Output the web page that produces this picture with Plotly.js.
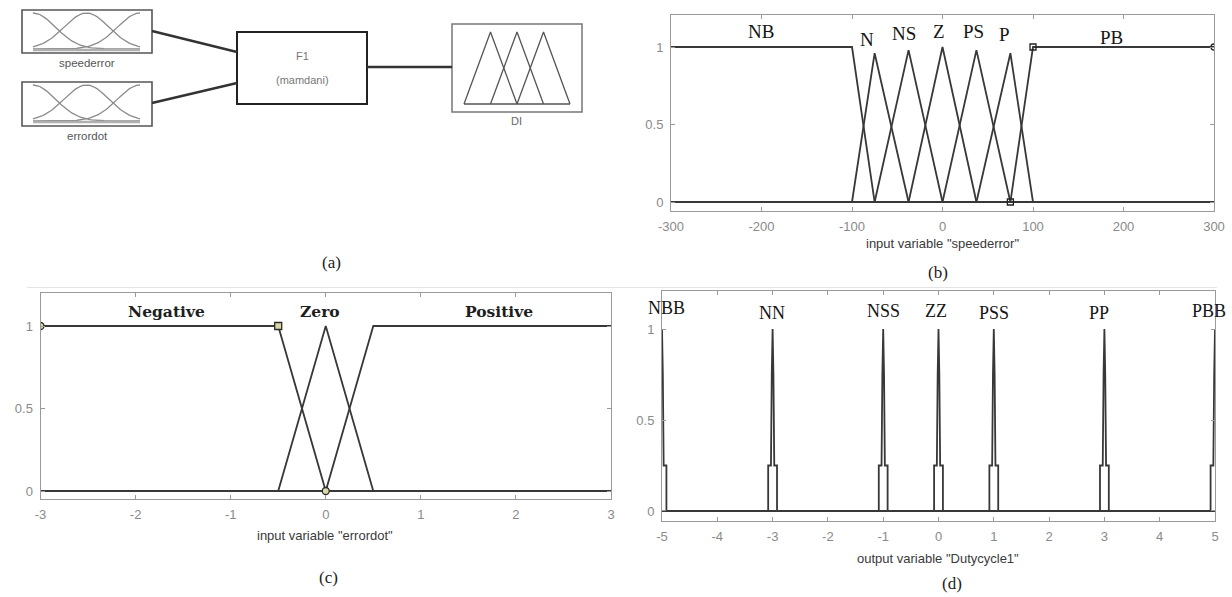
<!DOCTYPE html>
<html><head><meta charset="utf-8">
<script src="https://cdn.plot.ly/plotly-3.0.1.min.js"></script>
<style>html,body{margin:0;padding:0;background:#fff}#chart{width:1232px;height:597px}</style>
</head><body><div id="chart"></div>
<script>
// ================= DATA =================
// (b) input variable "speederror"
const speedRange = [-300, 300];
const speedNames = ['NB', 'N', 'NS', 'Z', 'PS', 'P', 'PB'];
const speedBreaksX = [[-300, -100, -75], [-100, -75, -37.5], [-75, -37.5, 0], [-37.5, 0, 37.5], [0, 37.5, 75], [37.5, 75, 100], [75, 100, 300]];
const speedBreaksY = [[1, 1, 0], [0, 0.96, 0], [0, 0.98, 0], [0, 1, 0], [0, 0.98, 0], [0, 0.96, 0], [0, 1, 1]];
const speedLabelX = [-200, -83, -42, -4, 34, 69, 187];
const speedLabelY = [1.10, 1.05, 1.09, 1.10, 1.10, 1.08, 1.06];
const speedMarkX = [75, 100, 300];
const speedMarkY = [0, 1, 1];
const speedMarkSym = ['square-open', 'square-open', 'circle-open'];
const speedTicks = [-300, -200, -100, 0, 100, 200, 300];
const speedTickText = ['-300', '-200', '-100', '0', '100', '200', '300'];

// (c) input variable "errordot"
const errRange = [-3, 3];
const errNames = ['Negative', 'Zero', 'Positive'];
const errBreaksX = [[-3, -0.5, 0], [-0.5, 0, 0.5], [0, 0.5, 3]];
const errBreaksY = [[1, 1, 0], [0, 1, 0], [0, 1, 1]];
const errLabelX = [-1.68, -0.06, 1.82];
const errLabelY = [1.09, 1.09, 1.09];
const errMarkX = [-3, -0.5, 0];
const errMarkY = [1, 1, 0];
const errMarkSym = ['circle', 'square', 'circle'];
const errTicks = [-3, -2, -1, 0, 1, 2, 3];
const errTickText = ['-3', '-2', '-1', '0', '1', '2', '3'];

// (d) output variable "Dutycycle1"
const dutyRange = [-5, 5];
const dutyNames = ['NBB', 'NN', 'NSS', 'ZZ', 'PSS', 'PP', 'PBB'];
const dutyCenters = [-5, -3, -1, 0, 1, 3, 5];
const spikeOffsets = [-0.08, -0.08, -0.03, -0.015, 0, 0.015, 0.03, 0.08, 0.08];
const spikeLevels = [0, 0.25, 0.25, 0.75, 1, 0.75, 0.25, 0.25, 0];
const dutyLabelX = [-4.91, -3.01, -1.0, -0.05, 1.0, 2.9, 4.89];
const dutyLabelY = [1.115, 1.09, 1.10, 1.10, 1.09, 1.09, 1.10];
const dutyTicks = [-5, -4, -3, -2, -1, 0, 1, 2, 3, 4, 5];
const dutyTickText = ['-5', '-4', '-3', '-2', '-1', '0', '1', '2', '3', '4', '5'];

const yTicks = [0, 0.5, 1];
const yTickText = ['0', '0.5', '1'];

// (a) FIS diagram icons
const inputIconCenters = [0, 0.5, 1];
const inputIconSigma = 0.21;
const outputIconTri = [[0, 0.25, 0.5], [0.25, 0.5, 0.75], [0.5, 0.75, 1]];

// ================= BUILD =================
const W = 1232, H = 597;
const px = x => x / W;
const py = y => 1 - y / H;
const MF = '#383838';
const traces = [];
const annotations = [];
const shapes = [];

function ann(o) { return Object.assign({ showarrow: false, xanchor: 'center', yanchor: 'middle' }, o); }

function mfTrace(xs, ys, range, xa, ya) {
  return {
    type: 'scatter', mode: 'lines', xaxis: xa, yaxis: ya,
    x: [range[0], ...xs, range[1]],
    y: [ys[0], ...ys, ys[ys.length - 1]],
    line: { color: MF, width: 1.8 }, hoverinfo: 'skip', showlegend: false
  };
}

// panel b
speedBreaksX.forEach((xs, i) => traces.push(mfTrace(xs, speedBreaksY[i], speedRange, 'x2', 'y2')));
traces.push({ type: 'scatter', mode: 'markers', xaxis: 'x2', yaxis: 'y2', x: speedMarkX, y: speedMarkY,
  marker: { symbol: speedMarkSym, size: 6, color: '#222', line: { color: '#222', width: 1.3 } }, cliponaxis: true, hoverinfo: 'skip', showlegend: false });
speedNames.forEach((n, i) => annotations.push(ann({ xref: 'x2', yref: 'y2', x: speedLabelX[i], y: speedLabelY[i], text: n,
  font: { family: 'Liberation Serif', size: 19, color: '#151515' } })));

// panel c
errBreaksX.forEach((xs, i) => traces.push(mfTrace(xs, errBreaksY[i], errRange, 'x3', 'y3')));
traces.push({ type: 'scatter', mode: 'markers', xaxis: 'x3', yaxis: 'y3', x: errMarkX, y: errMarkY,
  marker: { symbol: errMarkSym, size: 7, color: '#d9d9a6', line: { color: '#2a2a2a', width: 1.3 } }, cliponaxis: true, hoverinfo: 'skip', showlegend: false });
errNames.forEach((n, i) => annotations.push(ann({ xref: 'x3', yref: 'y3', x: errLabelX[i], y: errLabelY[i], text: '<b>' + n + '</b>',
  font: { family: 'DejaVu Serif', size: 15.5, color: '#1e1e1e' } })));

// panel d
dutyCenters.forEach(c => {
  const xs = spikeOffsets.map(o => c + o);
  traces.push(mfTrace(xs, spikeLevels, dutyRange, 'x4', 'y4'));
});
dutyNames.forEach((n, i) => annotations.push(ann({ xref: 'x4', yref: 'y4', x: dutyLabelX[i], y: dutyLabelY[i], text: n,
  font: { family: 'Liberation Serif', size: 18, color: '#151515' } })));

// panel a (pixel-unit hidden axes)
const inBoxes = [{ x0: 22, y0: 10, x1: 152, y1: 53, ix0: 33, ix1: 140, iy0: 13, iy1: 49, name: 'speederror', ty: 63 },
                 { x0: 22, y0: 82, x1: 152, y1: 126, ix0: 33, ix1: 140, iy0: 85, iy1: 121, name: 'errordot', ty: 136 }];
const N = 61;
inBoxes.forEach(b => {
  shapes.push({ type: 'rect', xref: 'x', yref: 'y', x0: b.x0, y0: b.y0, x1: b.x1, y1: b.y1, line: { color: '#555', width: 1.6 } });
  inputIconCenters.forEach(c => {
    const xs = [], ys = [];
    for (let k = 0; k < N; k++) {
      const u = k / (N - 1);
      const v = Math.exp(-((u - c) ** 2) / (2 * inputIconSigma ** 2));
      xs.push(b.ix0 + u * (b.ix1 - b.ix0));
      ys.push(b.iy1 - v * (b.iy1 - b.iy0));
    }
    traces.push({ type: 'scatter', mode: 'lines', xaxis: 'x', yaxis: 'y', x: xs, y: ys, line: { color: '#8a8a8a', width: 1.3 }, hoverinfo: 'skip', showlegend: false });
  });
  shapes.push({ type: 'line', xref: 'x', yref: 'y', x0: b.ix0, x1: b.ix1, y0: b.iy1 + 1, y1: b.iy1 + 1, line: { color: '#b0b0b0', width: 2.5 } });
  annotations.push(ann({ xref: 'x', yref: 'y', x: (b.x0 + b.x1) / 2, y: b.ty, text: b.name, font: { family: 'Liberation Sans', size: 11.5, color: '#555' } }));
});
// F1 box
shapes.push({ type: 'rect', xref: 'x', yref: 'y', x0: 237, y0: 32, x1: 367, y1: 104, line: { color: '#222', width: 2 } });
annotations.push(ann({ xref: 'x', yref: 'y', x: 302, y: 56, text: 'F1', font: { family: 'Liberation Sans', size: 11, color: '#777' } }));
annotations.push(ann({ xref: 'x', yref: 'y', x: 302, y: 80, text: '(mamdani)', font: { family: 'Liberation Sans', size: 11, color: '#777' } }));
// DI box
const dOut = { x0: 452, y0: 24, x1: 582, y1: 112, ix0: 464, ix1: 570, iy0: 32, iy1: 104 };
shapes.push({ type: 'rect', xref: 'x', yref: 'y', x0: dOut.x0, y0: dOut.y0, x1: dOut.x1, y1: dOut.y1, line: { color: '#777', width: 1.5 } });
outputIconTri.forEach(t => {
  traces.push({ type: 'scatter', mode: 'lines', xaxis: 'x', yaxis: 'y',
    x: t.map(u => dOut.ix0 + u * (dOut.ix1 - dOut.ix0)), y: [dOut.iy1, dOut.iy0, dOut.iy1],
    line: { color: '#555', width: 1.3 }, hoverinfo: 'skip', showlegend: false });
});
shapes.push({ type: 'line', xref: 'x', yref: 'y', x0: dOut.ix0, x1: dOut.ix1, y0: dOut.iy1, y1: dOut.iy1, line: { color: '#555', width: 1.3 } });
annotations.push(ann({ xref: 'x', yref: 'y', x: 516, y: 121, text: 'DI', font: { family: 'Liberation Sans', size: 11, color: '#666' } }));
// connectors
[[152, 31, 237, 52], [152, 103, 237, 83], [367, 67, 452, 67]].forEach(c =>
  shapes.push({ type: 'line', xref: 'x', yref: 'y', x0: c[0], y0: c[1], x1: c[2], y1: c[3], line: { color: '#333', width: 2.4 } }));

// faint separator
shapes.push({ type: 'line', xref: 'paper', yref: 'paper', x0: px(27), x1: px(1217), y0: py(287.5), y1: py(287.5), line: { color: '#e4e4e4', width: 1.2 } });

// axis titles & panel letters
const axTitleFont = { family: 'Liberation Sans', size: 13, color: '#3a3a3a' };
annotations.push(ann({ xref: 'paper', yref: 'paper', x: px(942), y: py(243), text: 'input variable "speederror"', font: axTitleFont }));
annotations.push(ann({ xref: 'paper', yref: 'paper', x: px(325), y: py(535), text: 'input variable "errordot"', font: axTitleFont }));
annotations.push(ann({ xref: 'paper', yref: 'paper', x: px(938), y: py(558), text: 'output variable "Dutycycle1"', font: axTitleFont }));
const letterFont = { family: 'Liberation Serif', size: 17, color: '#222' };
[['(a)', 331, 262], ['(b)', 938, 272], ['(c)', 328, 577], ['(d)', 952, 583]].forEach(l =>
  annotations.push(ann({ xref: 'paper', yref: 'paper', x: px(l[1]), y: py(l[2]), text: l[0], font: letterFont })));

function axX(dom, range, tv, tt) {
  return { domain: [px(dom[0]), px(dom[1])], range: range, tickvals: tv, ticktext: tt, showline: true, mirror: 'ticks', linecolor: '#9a9a9a', linewidth: 1,
    ticks: 'inside', ticklen: 4, tickcolor: '#9a9a9a', showgrid: false, zeroline: false, fixedrange: true, ticklabelstandoff: 3,
    tickfont: { family: 'Liberation Sans', size: 13, color: '#8a8a8a' } };
}
function axY(dom, range, anchor) {
  return { domain: [py(dom[1]), py(dom[0])], range: range, tickvals: yTicks, ticktext: yTickText, showline: true, mirror: 'ticks', linecolor: '#9a9a9a', linewidth: 1,
    ticks: 'inside', ticklen: 4, tickcolor: '#9a9a9a', showgrid: false, zeroline: false, fixedrange: true, anchor: anchor, ticklabelstandoff: 4,
    tickfont: { family: 'Liberation Sans', size: 13, color: '#8a8a8a' } };
}

const layout = {
  width: W, height: H, margin: { l: 0, r: 0, t: 0, b: 0 }, paper_bgcolor: '#fff', plot_bgcolor: 'rgba(0,0,0,0)', showlegend: false,
  xaxis: { domain: [0, px(600)], range: [0, 600], visible: false, fixedrange: true, anchor: 'y' },
  yaxis: { domain: [py(290), 1], range: [290, 0], visible: false, fixedrange: true, anchor: 'x' },
  xaxis2: Object.assign(axX([671, 1214], speedRange, speedTicks, speedTickText), { anchor: 'y2' }),
  yaxis2: axY([15, 211], [-0.058, 1.2065], 'x2'),
  xaxis3: Object.assign(axX([40.5, 611], errRange, errTicks, errTickText), { anchor: 'y3' }),
  yaxis3: axY([293, 499], [-0.0485, 1.2], 'x3'),
  xaxis4: Object.assign(axX([662, 1215], dutyRange, dutyTicks, dutyTickText), { anchor: 'y4' }),
  yaxis4: axY([291, 521], [-0.055, 1.209], 'x4'),
  annotations: annotations, shapes: shapes
};
Plotly.newPlot('chart', traces, layout, { staticPlot: true, displayModeBar: false });
</script></body></html>
